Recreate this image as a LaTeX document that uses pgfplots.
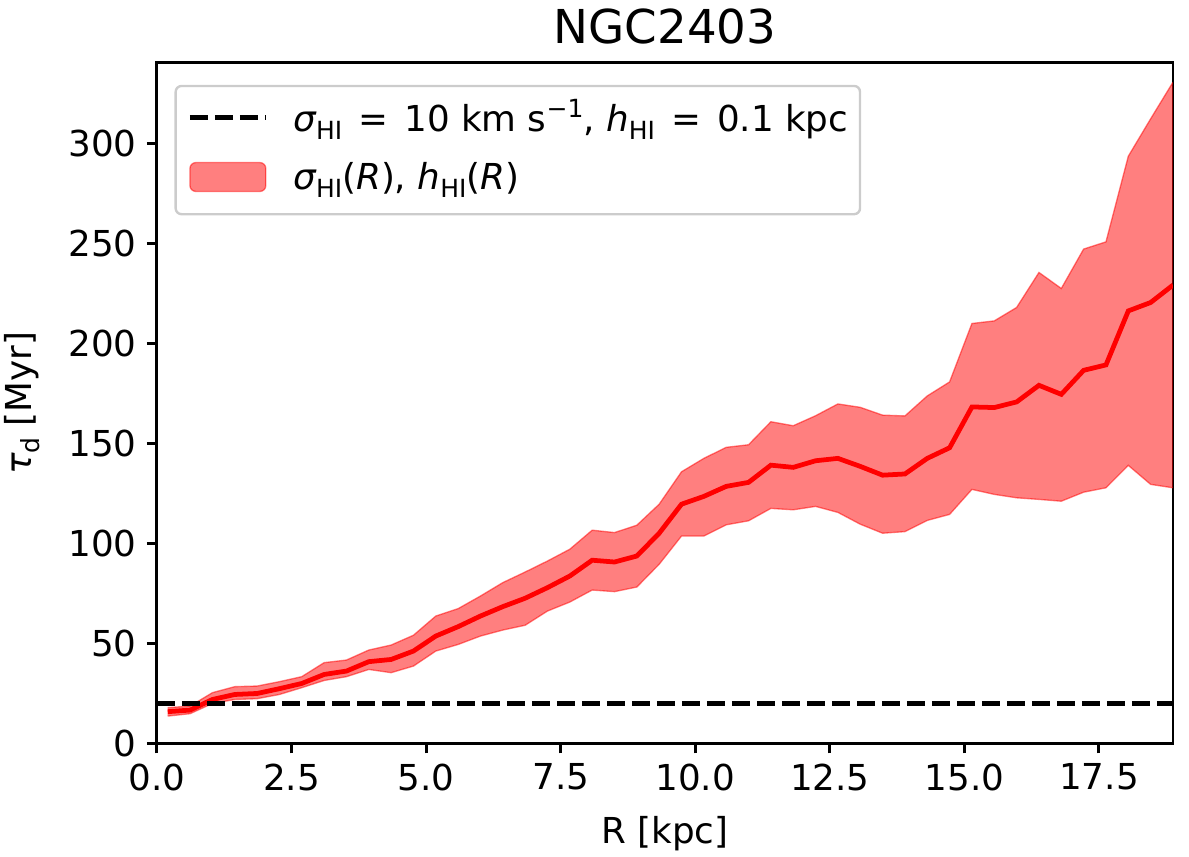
\documentclass[border=0pt]{standalone}
\usepackage{fontspec}
\setmainfont{DejaVu Sans}
\usepackage{pgfplots}
\usepackage{pgfplotstable}
\pgfplotsset{compat=1.18}
\usepgfplotslibrary{fillbetween}
\newcommand{\sbs}[1]{\raisebox{-2.8pt}{\fontsize{8.4}{9}\selectfont #1}}
\newcommand{\sps}[1]{\raisebox{4.5pt}{\fontsize{8.4}{9}\selectfont #1}}
\newcommand{\eq}{\hspace{0.45em}=\hspace{0.45em}}
\pgfplotstableread{
x mean up lo
0.200 15.8 17.8 13.6
0.615 16.6 18.6 14.8
1.030 21.9 25.3 19.9
1.445 24.4 28.3 21.9
1.860 24.9 28.6 22.3
2.275 27.3 30.8 24.4
2.690 29.9 33.3 27.8
3.105 34.4 40.3 31.4
3.520 36.1 41.6 33.3
3.935 40.8 46.6 36.9
4.350 41.9 49.1 35.3
4.765 46.1 54.0 38.6
5.180 53.6 63.6 46.1
5.595 58.3 67.3 49.4
6.010 63.6 73.6 53.6
6.425 68.3 80.3 56.6
6.840 72.5 85.6 59.0
7.255 77.8 91.1 66.1
7.670 83.6 97.0 70.6
8.085 91.5 106.5 76.6
8.500 90.6 105.3 75.8
8.915 93.6 109.0 78.1
9.330 105.0 119.5 89.5
9.745 119.5 135.7 103.6
10.160 123.4 142.4 103.6
10.575 128.4 147.9 109.2
10.990 130.4 149.2 111.2
11.405 139.0 160.7 117.4
11.820 137.9 158.7 116.7
12.235 141.2 163.7 118.4
12.650 142.4 169.6 115.4
13.065 138.4 167.9 109.5
13.480 134.0 164.0 105.0
13.895 134.6 163.6 105.8
14.310 142.4 173.6 111.4
14.725 147.7 180.6 114.4
15.140 168.1 209.8 126.9
15.555 167.8 211.1 124.4
15.970 170.6 217.8 122.7
16.385 178.9 235.3 121.9
16.800 174.4 227.3 121.0
17.215 186.4 247.0 125.5
17.630 189.1 250.6 127.7
18.045 216.1 293.4 138.9
18.460 220.3 312.1 129.4
18.875 229.0 330.4 127.7
}\datatab
\begin{document}
\begin{tikzpicture}
\begin{axis}[
  at={(0pt,0pt)}, anchor=south west,
  scale only axis, width=341.4pt, height=228.6pt,
  xmin=0, xmax=18.875, ymin=0, ymax=340,
  xtick={0,2.5,5,7.5,10,12.5,15,17.5},
  ytick={0,50,100,150,200,250,300},
  minor tick num=0,
  xtick pos=lower, ytick pos=left,
  tick align=outside,
  major tick length=3.36pt,
  tick style={line width=1pt, black},
  axis line style={line width=1pt},
  /pgf/number format/assume math mode=true,
  x tick label style={/pgf/number format/.cd, fixed, fixed zerofill, precision=1},
  ticklabel style={font=\fontsize{12}{14}\selectfont},
  label style={font=\fontsize{12}{14}\selectfont},
  xlabel={R [kpc]},
  ylabel={{\itshape τ}\sbs{d} [Myr]},
  xlabel style={at={(axis description cs:0.5,0)}, anchor=base, yshift=-33.6pt, inner sep=0pt},
  ylabel style={at={(axis description cs:-0.133,0.5)}, anchor=center, inner sep=0pt},
  title={NGC2403},
  title style={at={(axis description cs:0.5,1)}, anchor=base, yshift=0.4pt, inner sep=0pt, font=\fontsize{15.7}{18}\selectfont},
  legend cell align=left,
  legend style={at={(rel axis cs:0.0172,0.968)}, anchor=north west,
    draw=black!20, line width=0.8pt, rounded corners=2pt, fill=white, fill opacity=0.8, text opacity=1,
    font=\fontsize{12}{14}\selectfont,
    inner xsep=4pt, inner ysep=5.3pt, row sep=6.7pt,
    nodes={inner sep=0pt, text height=9.9pt, text depth=3pt},
    /tikz/every odd column/.append style={column sep=8.5pt}},
]
\addlegendimage{legend image code/.code={\draw[black, line width=1.6pt, dash pattern=on 5.95pt off 2.45pt] (0pt,1.05pt) -- (25.5pt,1.05pt);}}
\addlegendentry{{\itshape σ}\sbs{HI}\eq 10 km s\sps{−1}, {\itshape h}\sbs{HI}\eq 0.1 kpc}
\addlegendimage{legend image code/.code={\draw[draw=red, draw opacity=0.5, fill=red, fill opacity=0.5, line width=0.45pt] (0pt,-4.1pt) rectangle (25.5pt,5.6pt);}}
\addlegendentry{{\itshape σ}\sbs{HI}({\itshape R}), {\itshape h}\sbs{HI}({\itshape R})}

\addplot[draw=none, name path=up, forget plot] table[x=x, y=up]{\datatab};
\addplot[draw=none, name path=lo, forget plot] table[x=x, y=lo]{\datatab};
\addplot[fill=red, fill opacity=0.5, draw=none, forget plot] fill between[of=up and lo];
\addplot[red, opacity=0.5, line width=0.45pt, forget plot] table[x=x, y=up]{\datatab};
\addplot[red, opacity=0.5, line width=0.45pt, forget plot] table[x=x, y=lo]{\datatab};
\addplot[red, line width=1.6pt, forget plot] table[x=x, y=mean]{\datatab};
\addplot[black, line width=1.6pt, dash pattern=on 5.95pt off 2.45pt, forget plot] coordinates {(0,20) (18.875,20)};
\end{axis}
\pgfresetboundingbox
\useasboundingbox (-52.75pt,-38.2pt) rectangle (346.78pt,249.77pt);
\end{tikzpicture}
\end{document}
